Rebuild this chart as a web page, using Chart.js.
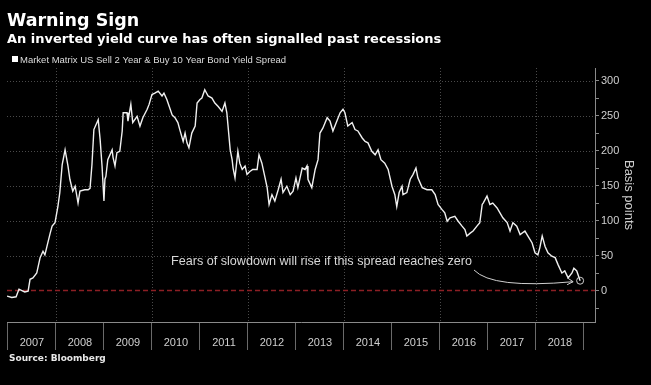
<!DOCTYPE html>
<html>
<head>
<meta charset="utf-8">
<script src="https://cdn.jsdelivr.net/npm/chart.js@4.4.1/dist/chart.umd.min.js"></script>
<style>
  html, body { margin: 0; padding: 0; background: #000; }
  canvas { display: block; }
</style>
</head>
<body>
<canvas id="spreadChart" width="651" height="385"></canvas>
<script>
// US 2s10s spread in basis points (x = decimal year)
const dates = [
  2006.98, 2007.08, 2007.17, 2007.23, 2007.29, 2007.35, 2007.42, 2007.46, 2007.52, 2007.60,
  2007.67, 2007.73, 2007.77, 2007.83, 2007.88, 2007.92, 2007.98, 2008.04, 2008.08, 2008.13,
  2008.19, 2008.25, 2008.29, 2008.35, 2008.40, 2008.46, 2008.50, 2008.60, 2008.67, 2008.71,
  2008.75, 2008.79, 2008.88, 2008.92, 2008.96, 2009.00, 2009.02, 2009.04, 2009.08, 2009.17,
  2009.19, 2009.23, 2009.27, 2009.33, 2009.38, 2009.40, 2009.48, 2009.50, 2009.56, 2009.60,
  2009.69, 2009.75, 2009.81, 2009.90, 2009.94, 2010.00, 2010.06, 2010.13, 2010.21, 2010.25,
  2010.31, 2010.38, 2010.42, 2010.48, 2010.54, 2010.58, 2010.65, 2010.69, 2010.73, 2010.77,
  2010.83, 2010.90, 2010.94, 2011.00, 2011.04, 2011.10, 2011.17, 2011.25, 2011.31, 2011.38,
  2011.46, 2011.52, 2011.56, 2011.63, 2011.67, 2011.69, 2011.73, 2011.79, 2011.83, 2011.88,
  2011.94, 2011.98, 2012.04, 2012.10, 2012.19, 2012.23, 2012.29, 2012.35, 2012.40, 2012.44,
  2012.50, 2012.56, 2012.63, 2012.69, 2012.73, 2012.81, 2012.88, 2012.94, 2013.00, 2013.04,
  2013.13, 2013.19, 2013.23, 2013.25, 2013.33, 2013.40, 2013.46, 2013.50, 2013.56, 2013.65,
  2013.71, 2013.77, 2013.85, 2013.92, 2013.98, 2014.02, 2014.08, 2014.17, 2014.23, 2014.29,
  2014.38, 2014.44, 2014.50, 2014.58, 2014.65, 2014.71, 2014.77, 2014.85, 2014.92, 2015.00,
  2015.06, 2015.10, 2015.15, 2015.21, 2015.23, 2015.31, 2015.38, 2015.44, 2015.50, 2015.54,
  2015.63, 2015.73, 2015.83, 2015.90, 2015.96, 2016.04, 2016.10, 2016.15, 2016.21, 2016.31,
  2016.38, 2016.46, 2016.52, 2016.56, 2016.63, 2016.69, 2016.77, 2016.83, 2016.88, 2016.90,
  2016.94, 2016.98, 2017.04, 2017.10, 2017.19, 2017.25, 2017.31, 2017.40, 2017.46, 2017.52,
  2017.60, 2017.67, 2017.77, 2017.83, 2017.92, 2017.98, 2018.04, 2018.08, 2018.13, 2018.19,
  2018.25, 2018.33, 2018.40, 2018.46, 2018.54, 2018.60, 2018.67, 2018.75, 2018.79, 2018.85,
  2018.92
];
const spread = [
  -8, -10, -9, 2, 0, -2, -1, 16, 18, 25,
  47, 56, 51, 68, 82, 92, 97, 120, 140, 180,
  201, 178, 159, 142, 149, 125, 142, 144, 144, 146,
  180, 230, 244, 216, 178, 128, 159, 163, 187, 201,
  190, 178, 197, 199, 228, 254, 254, 242, 266, 240,
  249, 235, 247, 259, 266, 280, 282, 285, 278, 282,
  273, 259, 251, 247, 240, 230, 213, 225, 211, 204,
  225, 235, 268, 273, 275, 287, 278, 275, 268, 263,
  256, 268, 254, 201, 187, 175, 161, 199, 182, 173,
  178, 166, 170, 173, 173, 194, 182, 163, 147, 123,
  137, 128, 144, 159, 140, 149, 137, 142, 161, 147,
  175, 173, 178, 159, 147, 173, 187, 225, 232, 247,
  242, 228, 242, 254, 259, 254, 235, 240, 230, 228,
  218, 213, 211, 199, 194, 201, 187, 182, 173, 149,
  137, 120, 140, 149, 137, 140, 159, 166, 175, 161,
  147, 144, 144, 137, 123, 116, 111, 99, 104, 106,
  99, 92, 87, 78, 82, 85, 92, 97, 123, 125,
  130, 135, 123, 125, 118, 111, 104, 97, 85, 97,
  92, 80, 85, 78, 68, 54, 51, 61, 78, 63,
  54, 49, 47, 37, 25, 28, 18, 25, 32, 28,
  14
];
const yearTicks = [2007, 2008, 2009, 2010, 2011, 2012, 2013, 2014, 2015, 2016, 2017, 2018, 2019];
const gridYears = [2008, 2010, 2012, 2014, 2016, 2018];
const valueTicks = [-25, 0, 25, 50, 75, 100, 125, 150, 175, 200, 225, 250, 275, 300];
const valueLabels = [0, 50, 100, 150, 200, 250, 300];

const titleText = 'Warning Sign';
const subtitleText = 'An inverted yield curve has often signalled past recessions';
const seriesName = 'Market Matrix US Sell 2 Year & Buy 10 Year Bond Yield Spread';
const noteText = 'Fears of slowdown will rise if this spread reaches zero';
const sourceText = 'Source: Bloomberg';

// grid, zero line, annotation and the text around the chart
const decorations = {
  id: 'decorations',
  beforeDraw(chart) {
    const ctx = chart.ctx;
    ctx.save();
    ctx.fillStyle = '#000';
    ctx.fillRect(0, 0, chart.width, chart.height);
    ctx.restore();
  },
  beforeDatasetsDraw(chart) {
    const { ctx, chartArea: a, scales: { x, y } } = chart;
    ctx.save();
    ctx.strokeStyle = '#4a4a4a';
    ctx.lineWidth = 1;
    ctx.setLineDash([1, 2]);
    valueLabels.filter(v => v > 0).forEach(v => {
      const py = Math.round(y.getPixelForValue(v)) + 0.5;
      ctx.beginPath();
      ctx.moveTo(a.left, py);
      ctx.lineTo(a.right, py);
      ctx.stroke();
    });
    gridYears.forEach(yr => {
      const px = Math.round(x.getPixelForValue(yr)) + 0.5;
      ctx.beginPath();
      ctx.moveTo(px, a.top);
      ctx.lineTo(px, a.bottom);
      ctx.stroke();
    });
    // zero line
    ctx.strokeStyle = '#8c1f24';
    ctx.lineWidth = 1.5;
    ctx.setLineDash([5, 3]);
    const zy = y.getPixelForValue(0);
    ctx.beginPath();
    ctx.moveTo(a.left, zy);
    ctx.lineTo(a.right, zy);
    ctx.stroke();
    ctx.restore();
  },
  afterDatasetsDraw(chart) {
    const { ctx, scales: { x, y } } = chart;
    const last = spread.length - 1;
    const cx = x.getPixelForValue(dates[last]);
    const cy = y.getPixelForValue(spread[last]);
    ctx.save();
    ctx.font = '12.6px "Liberation Sans", Arial, sans-serif';
    ctx.fillStyle = '#d8d8d8';
    ctx.textBaseline = 'middle';
    ctx.fillText(noteText, 171, 262);
    // curved arrow to the latest reading
    ctx.strokeStyle = '#cfcfcf';
    ctx.lineWidth = 1;
    const sx = 474, sy = 270, tx = cx - 7, ty = cy + 1;
    ctx.beginPath();
    ctx.moveTo(sx, sy);
    ctx.quadraticCurveTo(492, 289, tx, ty);
    ctx.stroke();
    ctx.beginPath();
    ctx.moveTo(tx - 6, ty - 4);
    ctx.lineTo(tx, ty);
    ctx.lineTo(tx - 6, ty + 3);
    ctx.stroke();
    ctx.beginPath();
    ctx.arc(cx, cy, 3.5, 0, Math.PI * 2);
    ctx.stroke();
    ctx.restore();
  },
  afterDraw(chart) {
    const ctx = chart.ctx;
    ctx.save();
    ctx.fillStyle = '#fff';
    ctx.textBaseline = 'alphabetic';
    ctx.font = 'bold 17.5px "DejaVu Sans", sans-serif';
    ctx.fillText(titleText, 7, 26);
    ctx.font = 'bold 13px "DejaVu Sans", sans-serif';
    ctx.fillText(subtitleText, 7, 43);
    ctx.fillRect(12, 56, 6, 6);
    ctx.fillStyle = '#dcdcdc';
    ctx.font = '9.5px "Liberation Sans", Arial, sans-serif';
    ctx.fillText(seriesName, 20, 63);
    ctx.fillStyle = '#e8e8e8';
    ctx.font = 'bold 9px "DejaVu Sans", sans-serif';
    ctx.fillText(sourceText, 9, 361);
    ctx.restore();
  }
};

new Chart(document.getElementById('spreadChart'), {
  type: 'line',
  data: {
    datasets: [{
      label: seriesName,
      data: dates.map((d, i) => ({ x: d, y: spread[i] })),
      borderColor: '#f0f0f0',
      borderWidth: 1.4,
      pointRadius: 0,
      tension: 0
    }]
  },
  plugins: [decorations],
  options: {
    responsive: false,
    animation: false,
    layout: { padding: { left: 7, top: 68, right: 0, bottom: 0 } },
    plugins: { legend: { display: false }, tooltip: { enabled: false } },
    scales: {
      x: {
        type: 'linear',
        min: 2006.98,
        max: 2019.23,
        afterBuildTicks: s => { s.ticks = yearTicks.map(v => ({ value: v })); },
        afterFit: s => { s.height = 63; s.paddingLeft = 0; s.paddingRight = 0; },
        grid: { display: true, drawOnChartArea: false, tickLength: 28, color: '#6a6a6a', lineWidth: 1 },
        border: { display: true, color: '#8a8a8a', width: 1 },
        ticks: {
          autoSkip: false,
          maxRotation: 0,
          labelOffset: 24,
          padding: -14,
          color: '#cfcfcf',
          font: { family: '"Liberation Sans", Arial, sans-serif', size: 11 },
          callback: v => (v === 2019 ? '' : String(v))
        }
      },
      y: {
        position: 'right',
        min: -45,
        max: 318,
        afterBuildTicks: s => { s.ticks = valueTicks.map(v => ({ value: v })); },
        afterFit: s => { s.width = 56; s.paddingTop = 0; s.paddingBottom = 0; },
        grid: { display: true, drawOnChartArea: false, tickLength: 4, color: '#8a8a8a' },
        border: { display: true, color: '#8a8a8a', width: 1 },
        ticks: {
          autoSkip: false,
          padding: 2,
          color: '#cfcfcf',
          font: { family: '"Liberation Sans", Arial, sans-serif', size: 11 },
          callback: v => (valueLabels.includes(v) ? String(v) : '')
        },
        title: {
          display: true,
          text: 'Basis points',
          color: '#cfcfcf',
          padding: { top: 15, bottom: 0 },
          font: { family: '"Liberation Sans", Arial, sans-serif', size: 13 }
        }
      }
    }
  }
});
</script>
</body>
</html>
